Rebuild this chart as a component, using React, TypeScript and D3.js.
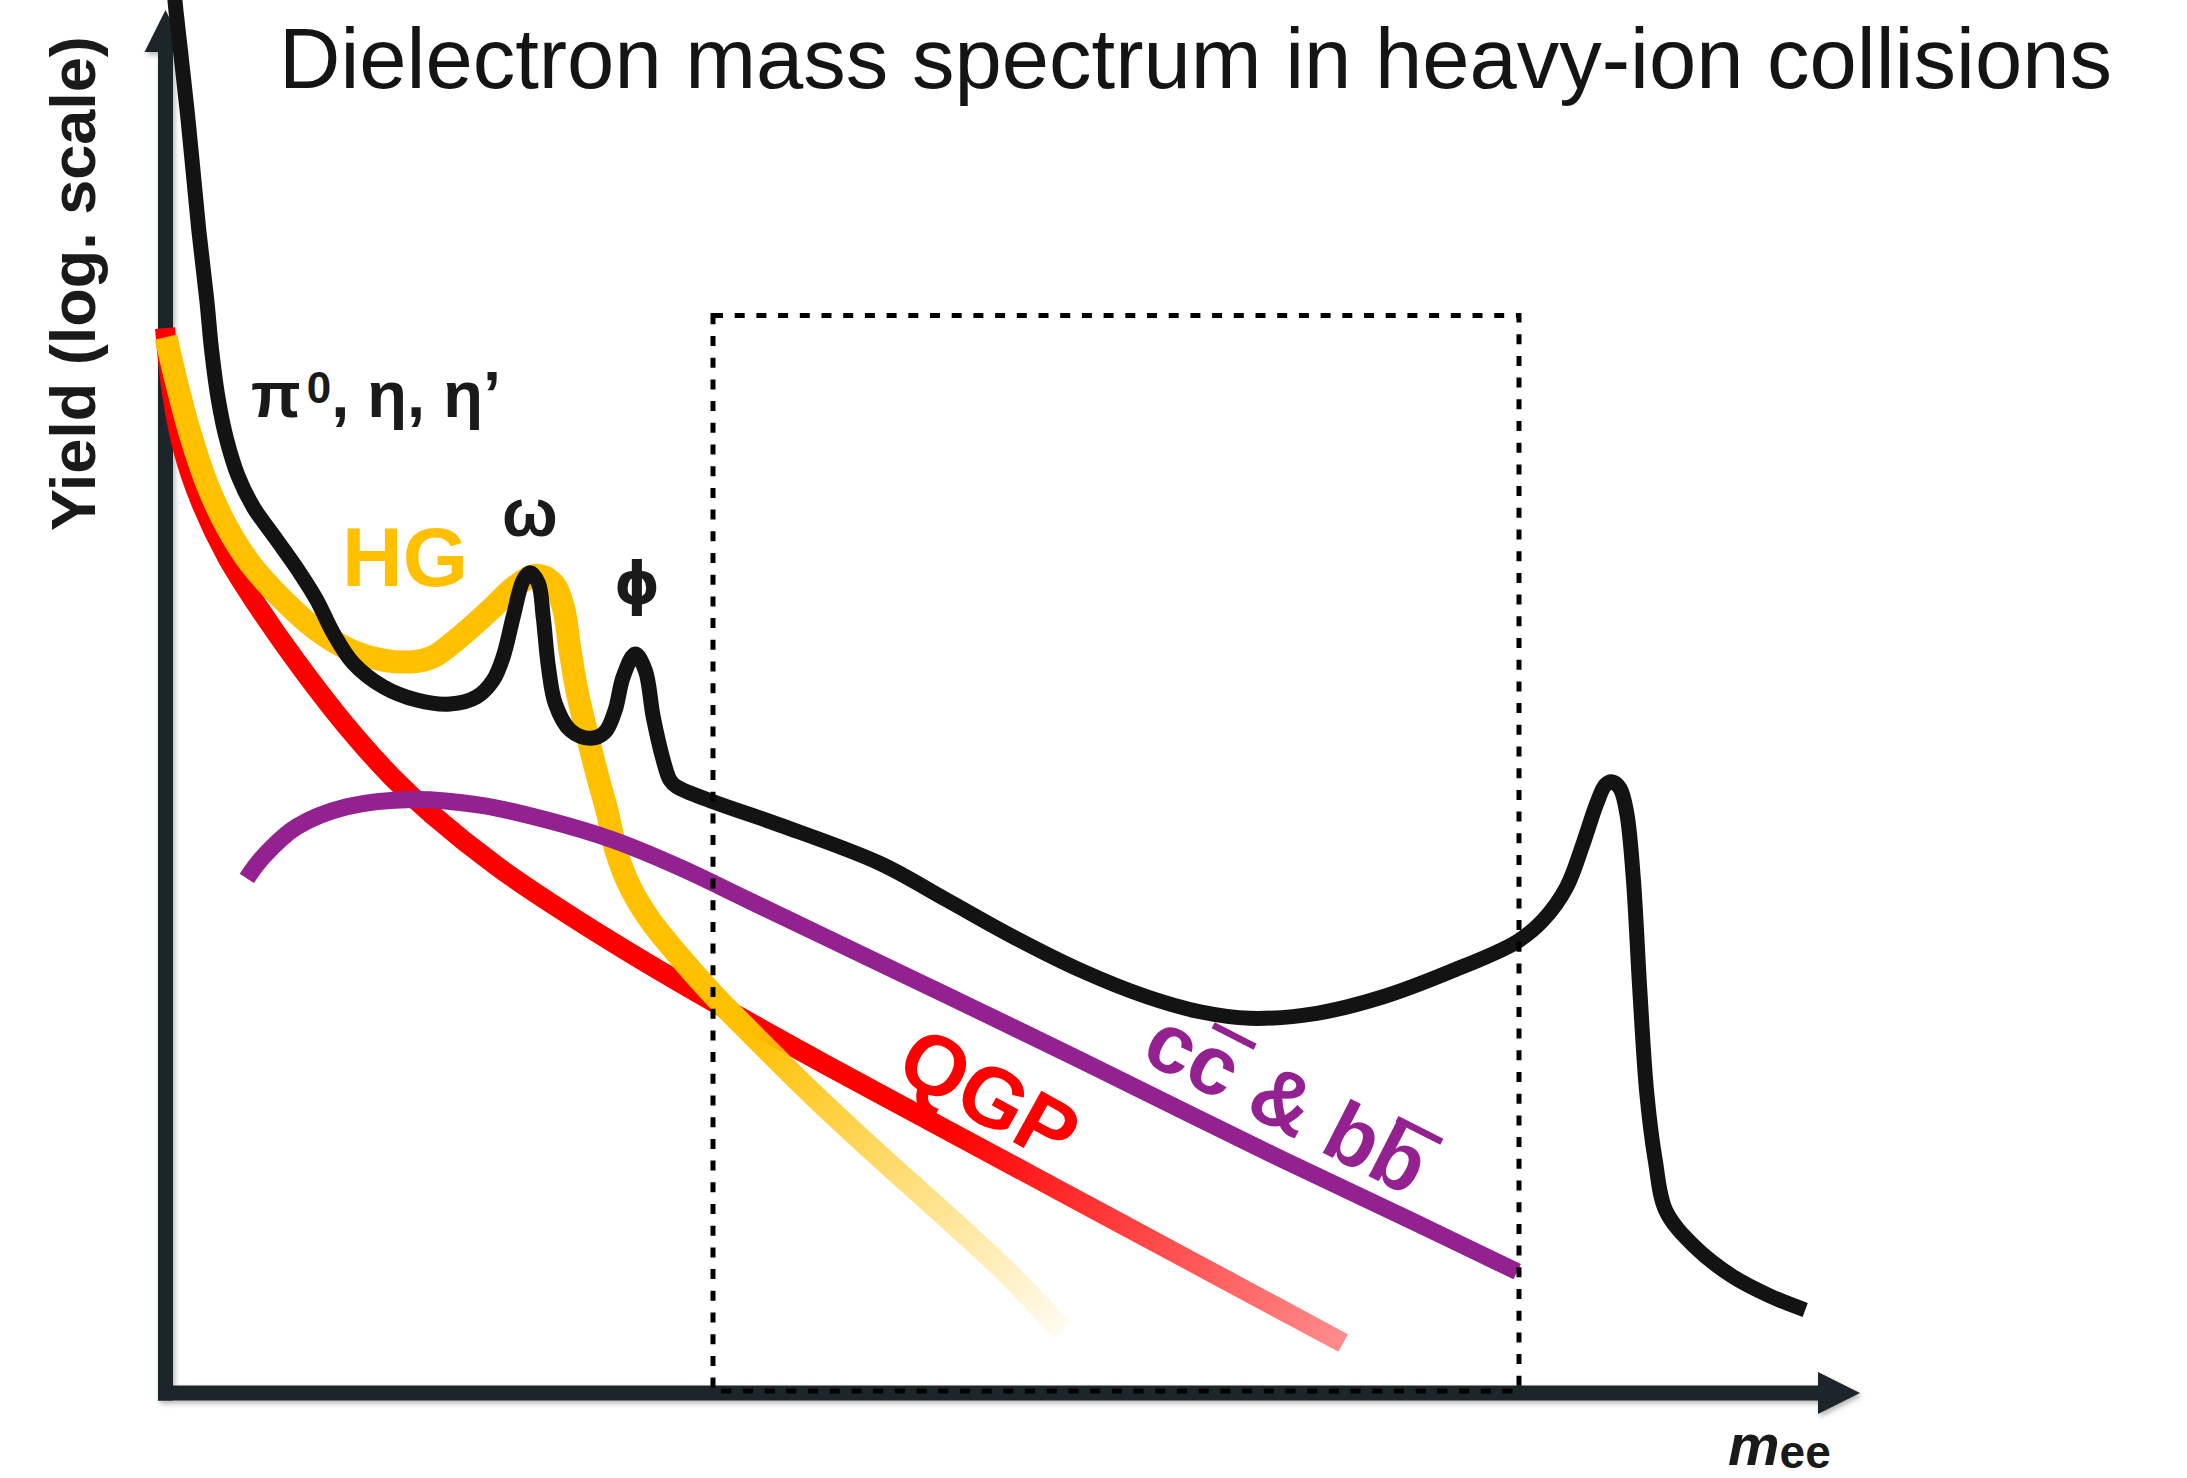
import React from 'react';
import * as d3 from 'd3';

const W = 2187;
const H = 1478;

// x: dielectron invariant mass (arbitrary units); y: log10 of yield (arbitrary decades)
const totalMass = [0.019, 0.025, 0.054, 0.082, 0.102, 0.114, 0.131, 0.152, 0.181, 0.218, 0.277, 0.335, 0.377, 0.418, 0.468, 0.543, 0.627, 0.71, 0.777, 0.818, 0.843, 0.868, 0.893, 0.91, 0.931, 0.943, 0.956, 0.973, 1.01, 1.06, 1.098, 1.123, 1.143, 1.173, 1.198, 1.218, 1.243, 1.26, 1.277, 1.368, 1.535, 1.785, 1.952, 2.118, 2.285, 2.452, 2.585, 2.71, 2.877, 3.043, 3.21, 3.377, 3.443, 3.502, 3.543, 3.577, 3.598, 3.614, 3.635, 3.652, 3.668, 3.685, 3.702, 3.723, 3.75, 3.82, 3.915, 4.01, 4.098];
const totalLogYield = [10.144, 9.957, 9.207, 8.379, 7.875, 7.514, 7.154, 6.866, 6.602, 6.385, 6.146, 5.908, 5.713, 5.476, 5.259, 5.089, 4.993, 4.964, 5.017, 5.137, 5.305, 5.593, 5.857, 5.91, 5.834, 5.593, 5.233, 4.969, 4.777, 4.717, 4.764, 4.921, 5.161, 5.324, 5.209, 4.873, 4.561, 4.416, 4.368, 4.26, 4.092, 3.816, 3.552, 3.287, 3.048, 2.855, 2.747, 2.7, 2.736, 2.855, 3.035, 3.251, 3.408, 3.648, 3.96, 4.249, 4.38, 4.404, 4.357, 4.176, 3.72, 2.88, 2.159, 1.679, 1.311, 1.059, 0.843, 0.699, 0.598];

const hgMass = [0.0, 0.027, 0.06, 0.102, 0.152, 0.21, 0.293, 0.377, 0.46, 0.543, 0.618, 0.668, 0.735, 0.81, 0.877, 0.927, 0.968, 0.993, 1.01, 1.027, 1.052, 1.077, 1.102, 1.127, 1.16, 1.21, 1.285, 1.368, 1.46, 1.618, 1.748, 2.088, 2.24];
const hgLogYield = [7.608, 7.274, 6.916, 6.554, 6.241, 5.978, 5.713, 5.497, 5.353, 5.281, 5.269, 5.305, 5.449, 5.641, 5.821, 5.893, 5.834, 5.665, 5.353, 5.065, 4.753, 4.465, 4.2, 3.89, 3.648, 3.408, 3.14, 2.87, 2.6, 2.15, 1.8, 0.908, 0.454];

const qgpMass = [-0.0025, 0.005, 0.015, 0.043, 0.085, 0.152, 0.227, 0.335, 0.46, 0.565, 0.665, 0.827, 0.993, 1.16, 1.327, 1.56, 1.785, 2.085, 2.385, 2.655, 2.943];
const qgpLogYield = [7.673, 7.442, 7.2, 6.794, 6.434, 6.025, 5.68, 5.237, 4.775, 4.439, 4.169, 3.796, 3.472, 3.171, 2.887, 2.507, 2.154, 1.689, 1.224, 0.806, 0.36];

const charmMass = [0.202, 0.243, 0.327, 0.452, 0.618, 0.785, 0.952, 1.118, 1.285, 1.46, 1.785, 2.035, 2.285, 2.793, 3.127, 3.378];
const charmLogYield = [3.708, 3.864, 4.08, 4.224, 4.277, 4.236, 4.128, 3.984, 3.786, 3.545, 3.096, 2.75, 2.4, 1.679, 1.223, 0.874];

// intermediate-mass window (dotted box)
const windowMass = [1.3675, 3.3825];
const windowLogYield = [0, 7.763];

const FONT = 'Liberation Sans, Arial, Helvetica, sans-serif';
const AXIS = '#1e262b';
const BLACK = '#131313';
const RED = '#ff0000';
const YELLOW = '#ffc000';
const PURPLE = '#93218f';

export default function App() {
  const x = d3.scaleLinear().domain([0, 4.235]).range([166, 1860]);
  const y = d3.scaleLinear().domain([0, 9.965]).range([1393, 10]);

  const line = d3
    .line<[number, number]>()
    .x((d) => x(d[0]))
    .y((d) => y(d[1]))
    .curve(d3.curveCatmullRom.alpha(0.5));

  const zip = (a: number[], b: number[]) => a.map((v, i) => [v, b[i]] as [number, number]);

  const totalPath = line(zip(totalMass, totalLogYield)) || '';
  const hgPath = line(zip(hgMass, hgLogYield)) || '';
  const qgpPath = line(zip(qgpMass, qgpLogYield)) || '';
  const charmPath = line(zip(charmMass, charmLogYield)) || '';

  const x0 = x(0) - 0.5;
  const y0 = y(0);
  const xEnd = x(4.235);
  const yEnd = y(9.965);

  const wx0 = x(windowMass[0]);
  const wx1 = x(windowMass[1]);
  const wy0 = y(windowLogYield[1]);
  const wy1 = y(windowLogYield[0]) - 2;

  // purple label layout (Liberation Sans Bold advance widths)
  const em = 84;
  const ccW = 3.612 * em;
  const ccStart = -ccW / 2;
  const c2 = ccStart + 0.556 * em;
  const b2 = ccStart + (0.556 * 2 + 0.278 + 0.722 + 0.278 + 0.611) * em;

  return (
    <svg
      width={W}
      height={H}
      style={{ position: 'absolute', left: 0, top: 0, background: '#fff' }}
      fontFamily={FONT}
    >
      <defs>
        <filter id="shadow" x="-5%" y="-5%" width="110%" height="110%">
          <feDropShadow dx="2" dy="3" stdDeviation="2.5" floodColor="#000" floodOpacity="0.28" />
        </filter>
        <linearGradient id="hgFade" gradientUnits="userSpaceOnUse" x1={x(1.45)} y1={y(2.6)} x2={x(2.24)} y2={y(0.45)}>
          <stop offset="0" stopColor={YELLOW} stopOpacity="1" />
          <stop offset="1" stopColor={YELLOW} stopOpacity="0.06" />
        </linearGradient>
        <linearGradient id="qgpFade" gradientUnits="userSpaceOnUse" x1={x(1.95)} y1={y(1.9)} x2={x(2.943)} y2={y(0.375)}>
          <stop offset="0" stopColor={RED} stopOpacity="1" />
          <stop offset="1" stopColor={RED} stopOpacity="0.45" />
        </linearGradient>
      </defs>
      <rect x={0} y={0} width={W} height={H} fill="#fff" />

      {/* title */}
      <text x={279} y={88} fontSize={85} fill="#141414">
        Dielectron mass spectrum in heavy-ion collisions
      </text>

      {/* axes */}
      <g filter="url(#shadow)">
        <line x1={x0} y1={y0 + 7.5} x2={x0} y2={yEnd + 38} stroke={AXIS} strokeWidth={15} />
        <polygon points={`${x0},${yEnd} ${x0 - 21},${yEnd + 42} ${x0 + 21},${yEnd + 42}`} fill={AXIS} />
        <line x1={x0 - 7.5} y1={y0} x2={xEnd - 38} y2={y0} stroke={AXIS} strokeWidth={15} />
        <polygon points={`${xEnd},${y0} ${xEnd - 42},${y0 - 21} ${xEnd - 42},${y0 + 21}`} fill={AXIS} />
      </g>

      {/* axis titles */}
      <text transform="translate(95,531) rotate(-90)" fontSize={63} fontWeight="bold" fill="#1a1a1a">
        Yield (log. scale)
      </text>
      <text x={1728} y={1465} fontWeight="bold" fill="#1a1a1a">
        <tspan fontSize={58} fontStyle="italic">m</tspan>
        <tspan fontSize={46} dy={3}>ee</tspan>
      </text>

      {/* curves */}
      <path d={qgpPath} fill="none" stroke="url(#qgpFade)" strokeWidth={20} strokeLinejoin="round" />
      <path d={hgPath} fill="none" stroke="url(#hgFade)" strokeWidth={23} strokeLinejoin="round" />
      <path d={charmPath} fill="none" stroke={PURPLE} strokeWidth={17} strokeLinejoin="round" />
      <path d={totalPath} fill="none" stroke={BLACK} strokeWidth={15} strokeLinejoin="round" />

      {/* dotted window */}
      <rect
        x={wx0}
        y={wy0}
        width={wx1 - wx0}
        height={wy1 - wy0}
        fill="none"
        stroke="#000"
        strokeWidth={5}
        strokeDasharray="10 11.7"
      />

      {/* labels */}
      <text x={251} y={417} fontSize={65} fontWeight="bold" fill="#1a1a1a">
        π<tspan fontSize={44} dx={6} dy={-14}>0</tspan>
        <tspan dy={14}>, η, η’</tspan>
      </text>
      <text x={342} y={586} fontSize={84} fontWeight="bold" fill={YELLOW}>
        HG
      </text>
      <text x={530} y={536} fontSize={66} fontWeight="bold" fill="#1a1a1a" textAnchor="middle">
        ω
      </text>
      <text x={637} y={604} fontSize={58} fontWeight="bold" fill="#1a1a1a" textAnchor="middle" fontFamily="DejaVu Sans, Liberation Sans, sans-serif">
        ϕ
      </text>
      <text transform="translate(975,1121) rotate(29)" fontSize={85} fontWeight="bold" fill={RED} textAnchor="middle">
        QGP
      </text>
      <g transform="translate(1274,1128) rotate(27)" fill={PURPLE}>
        <text x={0} y={0} fontSize={em} fontWeight="bold" textAnchor="middle" fill={PURPLE}>
          cc &amp; bb
        </text>
        <rect x={c2 + 0.05 * em} y={-0.8 * em} width={0.56 * em} height={0.08 * em} />
        <rect x={b2 + 0.06 * em} y={-0.8 * em} width={0.6 * em} height={0.08 * em} />
      </g>
    </svg>
  );
}
